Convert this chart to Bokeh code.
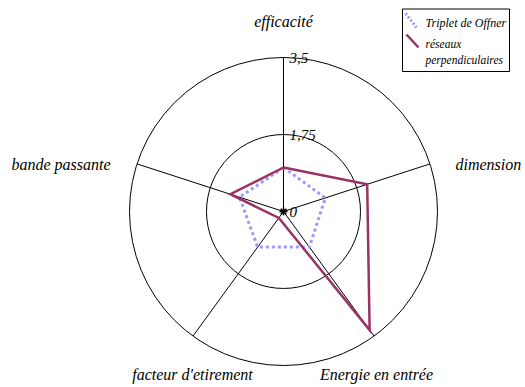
import math
from bokeh.plotting import figure
from bokeh.models import Range1d
from bokeh.core.properties import value
from bokeh.embed import file_html
from bokeh.resources import INLINE

# ---- data ----
categories = ["efficacité", "dimension", "Energie en entrée", "facteur d'etirement", "bande passante"]
offner = [1.0, 1.0, 1.0, 1.0, 1.05]
reseaux = [1.0, 2.0, 3.33, 0.18, 1.27]
tick_values = [0, 1.75, 3.5]
tick_labels = ["0", "1,75", "3,5"]
series_names = ["Triplet de Offner", "réseaux\nperpendiculaires"]

# ---- layout ----
W, H = 525, 387
CX, CY = 283, 211          # centre in figure pixels (from top-left)
PXU = 44.0                 # pixels per value unit
FONT = value("'Liberation Serif', serif")

def sx(px):
    return (px - CX) / PXU

def sy(py):
    return (CY - py) / PXU

p = figure(width=W, height=H, output_backend="svg", toolbar_location=None,
           x_range=Range1d(sx(0), sx(W)), y_range=Range1d(sy(H), sy(0)),
           min_border=0, outline_line_color=None)
p.xaxis.visible = False
p.yaxis.visible = False
p.xgrid.visible = False
p.ygrid.visible = False
p.background_fill_color = "white"

n = len(categories)
angles = [math.pi / 2 - 2 * math.pi * i / n for i in range(n)]
rmax = tick_values[-1]

# grid circles
for t in tick_values[1:]:
    p.circle(x=[0], y=[0], radius=t, fill_color=None, line_color="black", line_width=1)

# spokes
p.segment(x0=[0] * n, y0=[0] * n,
          x1=[rmax * math.cos(a) for a in angles],
          y1=[rmax * math.sin(a) for a in angles],
          line_color="black", line_width=1)

def poly(vals):
    xs = [v * math.cos(a) for v, a in zip(vals, angles)]
    ys = [v * math.sin(a) for v, a in zip(vals, angles)]
    return xs + xs[:1], ys + ys[:1]

ox, oy = poly(offner)
p.line(ox, oy, line_color="#9999ff", line_width=3, line_dash="3 3")
rx, ry = poly(reseaux)
p.line(rx, ry, line_color="#993366", line_width=2.5, line_join="miter")

# centre marker
p.scatter(x=[0], y=[0], marker="asterisk", size=8, line_color="black", line_width=1.5)

# tick labels
p.text(x=[sx(CX + 6)] * len(tick_values), y=tick_values, text=tick_labels,
       text_font=FONT, text_font_style="italic", text_font_size="15px",
       text_baseline="middle", text_align="left", text_color="black")

# category labels (pixel offsets from centre)
lab_off = [(0, 190, "center"), (172, 47, "left"), (93, -163, "center"),
           (-91, -163, "center"), (-173, 47, "right")]
for cat, (dx, dy, al) in zip(categories, lab_off):
    p.text(x=[dx / PXU], y=[dy / PXU], text=[cat], text_font=FONT,
           text_font_style="italic", text_font_size="16px",
           text_baseline="middle", text_align=al, text_color="black")

# legend box
lx0, ly0, lx1, ly1 = 402, 8.5, 509, 71
p.quad(left=[sx(lx0)], right=[sx(lx1)], top=[sy(ly0)], bottom=[sy(ly1)],
       fill_color="white", line_color="black", line_width=1)
p.line([sx(405), sx(416)], [sy(13), sy(27)], line_color="#9999ff", line_width=3, line_dash="2 2")
p.line([sx(406), sx(418)], [sy(34), sy(47)], line_color="#993366", line_width=2.5)
p.text(x=[sx(425)], y=[sy(22)], text=[series_names[0]], text_font=FONT,
       text_font_style="italic", text_font_size="12px", text_baseline="middle", text_align="left")
leg2 = series_names[1].split("\n")
p.text(x=[sx(425), sx(425)], y=[sy(43), sy(59)], text=leg2, text_font=FONT,
       text_font_style="italic", text_font_size="11.5px", text_baseline="middle", text_align="left")

open("out.html", "w").write(file_html(p, INLINE))
